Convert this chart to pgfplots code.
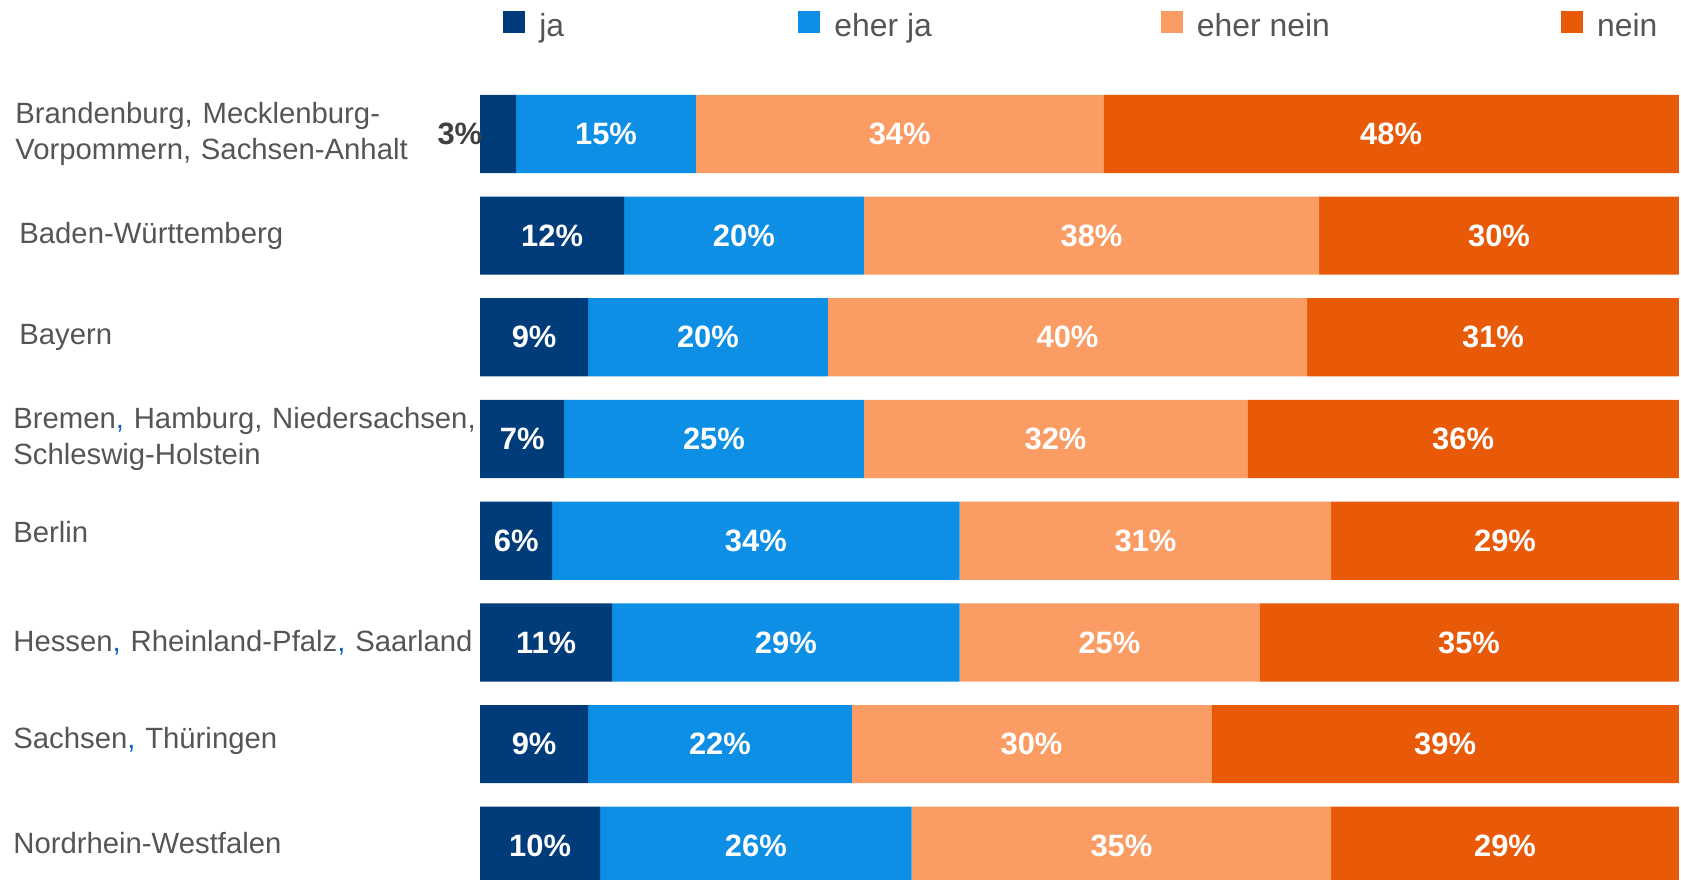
\documentclass[border=0pt]{standalone}
\usepackage{pgfplots}
\pgfplotsset{compat=1.18}
\usepackage{fontspec}
\setmainfont{Liberation Sans}
\definecolor{cja}{RGB}{0,59,122}
\definecolor{ceherja}{RGB}{13,143,230}
\definecolor{cehernein}{RGB}{250,156,99}
\definecolor{cnein}{RGB}{232,90,8}
\definecolor{labelgray}{RGB}{85,85,85}
\definecolor{pctgray}{RGB}{64,64,64}
\definecolor{commablue}{RGB}{16,96,192}
\protected\def\threepct{\makebox[0pt][r]{\textcolor{pctgray}{3\%}\hspace{8bp}}}
\newcommand{\bc}{\textcolor{commablue}{,}}
\pgfplotsset{sqleg/.style={legend image code/.code={\fill[##1] (0bp,-3bp) rectangle (11bp,8bp);}}}
\begin{document}
\begin{tikzpicture}
\path[use as bounding box] (0bp,0bp) rectangle (840.5bp,440bp);
\begin{axis}[
  at={(240.1bp,0bp)}, anchor=south west,
  width=599.3bp, height=440bp, scale only axis,
  xbar stacked, bar width=39.1bp,
  xmin=0, xmax=100, ymin=-0.336, ymax=8.317,
  clip=false,
  hide x axis,
  y axis line style={draw=none}, ytick style={draw=none},
  ytick={0,1,2,3,4,5,6,7},
  yticklabels={
    {\raisebox{2.5bp}{Nordrhein-Westfalen}},
    {\raisebox{6bp}{Sachsen\bc{} Thüringen}},
    {\raisebox{1.5bp}{Hessen\bc{} Rheinland-Pfalz\bc{} Saarland}},
    {\raisebox{8.5bp}{Berlin}},
    {Bremen\bc{} Hamburg, Niedersachsen,\\Schleswig-Holstein},
    {\hspace*{3bp}\raisebox{1.5bp}{Bayern}},
    {\hspace*{3bp}Baden-Württemberg},
    {\hspace*{1bp}Brandenburg, Mecklenburg-\\\hspace*{1bp}Vorpommern, Sachsen-Anhalt}},
  yticklabel style={anchor=west, xshift=-233.6bp, inner sep=0pt, align=left, text width=236bp,
    font=\fontsize{14.7}{17.7}\selectfont, text=labelgray},
  point meta=explicit symbolic,
  nodes near coords={\pgfplotspointmeta},
  every node near coord/.append style={anchor=center, text=white,
    font=\bfseries\fontsize{15.5}{18}\selectfont},
  legend columns=4,
  legend cell align=left,
  legend style={at={(0.0189,0.9714)}, anchor=west, draw=none, fill=none,
    inner sep=0pt, outer sep=0pt,
    font=\fontsize{16}{19}\selectfont, text=labelgray,
    nodes={inner sep=0pt},
    /tikz/every odd column/.append style={column sep=7.2bp},
    /tikz/column 2/.append style={column sep=117bp},
    /tikz/column 4/.append style={column sep=114.3bp},
    /tikz/column 6/.append style={column sep=115.4bp}},
]
\addplot[fill=cja, draw=none, sqleg] coordinates {
  (10,0) [10\%] (9,1) [9\%] (11,2) [11\%] (6,3) [6\%]
  (7,4) [7\%] (9,5) [9\%] (12,6) [12\%] (3,7) [\threepct]};
\addlegendentry{ja}
\addplot[fill=ceherja, draw=none, sqleg] coordinates {
  (26,0) [26\%] (22,1) [22\%] (29,2) [29\%] (34,3) [34\%]
  (25,4) [25\%] (20,5) [20\%] (20,6) [20\%] (15,7) [15\%]};
\addlegendentry{eher ja}
\addplot[fill=cehernein, draw=none, sqleg] coordinates {
  (35,0) [35\%] (30,1) [30\%] (25,2) [25\%] (31,3) [31\%]
  (32,4) [32\%] (40,5) [40\%] (38,6) [38\%] (34,7) [34\%]};
\addlegendentry{eher nein}
\addplot[fill=cnein, draw=none, sqleg] coordinates {
  (29,0) [29\%] (39,1) [39\%] (35,2) [35\%] (29,3) [29\%]
  (36,4) [36\%] (31,5) [31\%] (30,6) [30\%] (48,7) [48\%]};
\addlegendentry{nein}
\end{axis}
\end{tikzpicture}
\end{document}
